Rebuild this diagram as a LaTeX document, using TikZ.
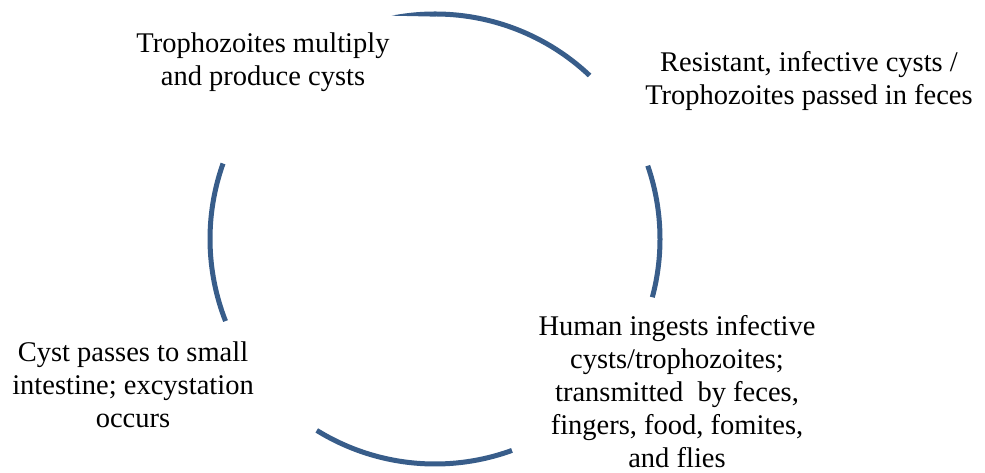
\documentclass[tikz,border=0pt]{standalone}
\usepackage{fontspec}
\usetikzlibrary{calc}
\setmainfont{Liberation Serif}
\definecolor{cycleblue}{RGB}{56,93,138}
\begin{document}
\begin{tikzpicture}[x=1pt,y=1pt,
  cyclearc/.style={draw=cycleblue,line width=5pt},
  stagelabel/.style={align=center,inner sep=0pt,font=\fontsize{28.5}{33}\selectfont}]
\useasboundingbox (0,0) rectangle (985,473);
\coordinate (c) at (435,234);
% tapered arc at the top
\fill[cycleblue] ($(c)+(101:227.5)$) arc[start angle=101,end angle=46.6,radius=227.5]
  -- ($(c)+(46.6:222.5)$) arc[start angle=46.6,end angle=91,radius=222.5] -- cycle;
% remaining arcs of the cycle
\draw[cyclearc] ($(c)+(19:225)$) arc[start angle=19,end angle=-15,radius=225];
\draw[cyclearc] ($(c)+(290:225)$) arc[start angle=290,end angle=238.3,radius=225];
\draw[cyclearc] ($(c)+(201.4:225)$) arc[start angle=201.4,end angle=160.4,radius=225];
% stage labels
\node[stagelabel] (multiply) at (263,411) {Trophozoites multiply\\and produce cysts};
\node[stagelabel] (passed) at (809,391.5) {Resistant, infective cysts /\\Trophozoites passed in feces};
\node[stagelabel] (ingest) at (677,81) {Human ingests infective\\cysts/trophozoites;\\transmitted\ \ by feces,\\fingers, food, fomites,\\and flies};
\node[stagelabel] (excyst) at (133,88) {Cyst passes to small\\intestine; excystation\\occurs};
\end{tikzpicture}
\end{document}
